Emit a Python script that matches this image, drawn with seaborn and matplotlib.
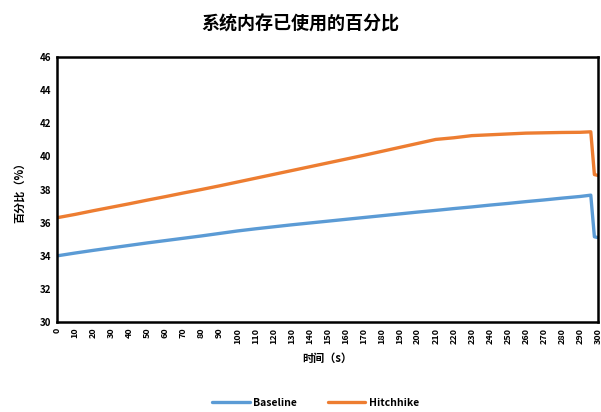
import numpy as np
import pandas as pd
import matplotlib
matplotlib.use("Agg")
import matplotlib.pyplot as plt
import seaborn as sns

# Sample times (s) and memory usage (%) for each configuration
times = [0, 10, 20, 30, 40, 50, 60, 70, 80, 90, 100, 110, 120, 130, 140, 150,
         160, 170, 180, 190, 200, 210, 220, 230, 240, 250, 260, 270, 280, 290,
         296, 298, 300]
baseline = [34.0, 34.17, 34.33, 34.48, 34.63, 34.78, 34.92, 35.06, 35.2, 35.35,
            35.5, 35.63, 35.75, 35.87, 35.98, 36.09, 36.2, 36.31, 36.42, 36.53,
            36.64, 36.74, 36.85, 36.95, 37.06, 37.16, 37.27, 37.37, 37.48, 37.58,
            37.66, 35.15, 35.1]
hitchhike = [36.3, 36.5, 36.72, 36.93, 37.14, 37.36, 37.57, 37.79, 38.0, 38.22,
             38.45, 38.68, 38.91, 39.14, 39.37, 39.6, 39.83, 40.06, 40.3, 40.54,
             40.78, 41.02, 41.12, 41.25, 41.3, 41.35, 41.4, 41.42, 41.44, 41.45,
             41.48, 38.9, 38.85]
series_names = ["Baseline", "Hitchhike"]
x_ticks = list(range(0, 301, 10))
y_ticks = list(range(30, 47, 2))

title = "系统内存已使用的百分比"
x_label = "时间（s）"
y_label = "百分比（%）"

df = pd.DataFrame({
    "t": times * 2,
    "v": baseline + hitchhike,
    "s": [series_names[0]] * len(times) + [series_names[1]] * len(times),
})

sns.set_theme(style="white")
plt.rcParams["font.family"] = ["Noto Sans CJK SC", "DejaVu Sans"]
plt.rcParams["text.color"] = "black"
plt.rcParams["axes.labelcolor"] = "black"
plt.rcParams["xtick.color"] = "black"
plt.rcParams["ytick.color"] = "black"

fig = plt.figure(figsize=(6.01, 4.12), dpi=100)
ax = fig.add_axes([0.095, 0.218, 0.9, 0.644])

sns.lineplot(data=df, x="t", y="v", hue="s",
             palette=["#5B9BD5", "#ED7D31"], linewidth=2.4, ax=ax, legend=False)

ax.set_xlim(0, 300)
ax.set_ylim(30, 46)
ax.set_xticks(x_ticks)
ax.set_xticklabels([str(v) for v in x_ticks], rotation=90, fontsize=6.5,
                   fontweight="bold")
ax.set_yticks(y_ticks)
ax.set_yticklabels([str(v) for v in y_ticks], fontsize=7, fontweight="bold")
ax.tick_params(axis="both", length=0, pad=4)

for sp in ax.spines.values():
    sp.set_visible(True)
    sp.set_color("black")
    sp.set_linewidth(1.8)

ax.set_xlabel(x_label, fontsize=8, fontweight="bold", labelpad=6)
ax.set_ylabel(y_label, fontsize=8, fontweight="bold", labelpad=10)
fig.suptitle(title, y=0.965, fontsize=13, fontweight="bold")

handles = [plt.Line2D([], [], color=c, linewidth=2.4) for c in ["#5B9BD5", "#ED7D31"]]
fig.legend(handles, series_names, loc="center", bbox_to_anchor=(0.525, 0.022),
           ncol=2, frameon=False, handlelength=3.6, handletextpad=0.3,
           columnspacing=3.0, prop={"size": 7.5, "weight": "bold"})

fig.savefig("out.png", dpi=100)
